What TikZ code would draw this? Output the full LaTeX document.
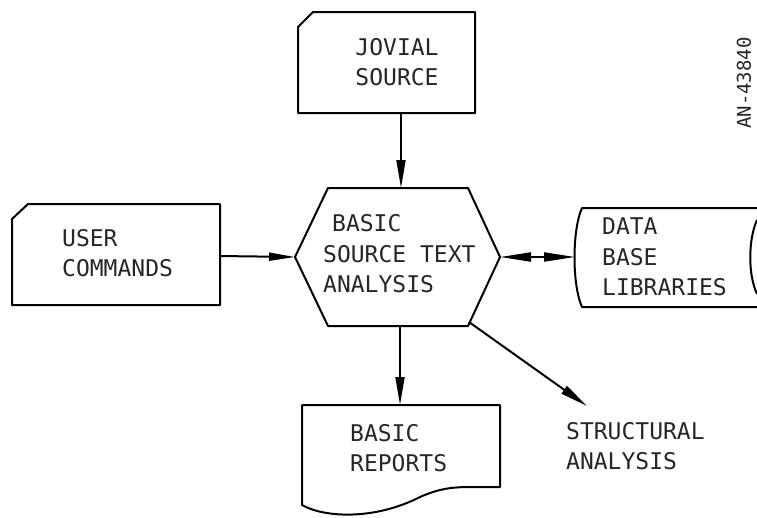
\documentclass[tikz,border=0pt]{standalone}
\usepackage{fontspec}
\setmonofont{DejaVu Sans Mono}
\usetikzlibrary{arrows.meta}
\begin{document}
\begin{tikzpicture}[x=1pt,y=-1pt,
  shp/.style={draw=black,line width=2pt,line join=round},
  conn/.style={draw=black,line width=2pt},
  lbl/.style={inner sep=0pt,text=black!85,font=\ttfamily\fontsize{23}{30.5}\selectfont},
  bighead/.tip={Triangle[length=28pt,width=9pt]}]
\useasboundingbox (0,0) rectangle (757,517);
% JOVIAL SOURCE card
\draw[shp] (298,113) -- (298,27) -- (313,12) -- (475,12) -- (475,113) -- cycle;
\coordinate (jovB) at (401,113);
\node[lbl,align=center] (jov) at (397,62) {JOVIAL\\SOURCE};
% USER COMMANDS card
\draw[shp] (12,305) -- (12,219) -- (28,204) -- (220,204) -- (220,305) -- cycle;
\coordinate (usrR) at (220,256);
\node[lbl,align=left,anchor=west] (usr) at (62,253) {USER\\COMMANDS};
% hexagon
\draw[shp] (328,188) -- (468,188) -- (500,257) -- (468,326) -- (328,326) -- (295,257) -- cycle;
\coordinate (hexT) at (401,188);
\coordinate (hexL) at (295,257);
\coordinate (hexR) at (500,257);
\coordinate (hexB) at (400,326);
\coordinate (hexBR) at (469,322);
\node[lbl,align=left,anchor=west] (bsta) at (323,254) {\hspace*{9pt}BASIC\\SOURCE TEXT\\ANALYSIS};
% data base libraries (stored data)
\draw[shp] (757,208) -- (582,208) .. controls (572,230) and (572,285) .. (582,307) -- (757,307);
\draw[shp] (757,220) .. controls (748,240) and (748,275) .. (757,294);
\coordinate (dbL) at (575,257);
\node[lbl,align=left,anchor=west] (db) at (602,257) {DATA\\BASE\\LIBRARIES};
% BASIC REPORTS document
\draw[shp] (500,487) -- (500,405) -- (302,405) -- (302,505)
  .. controls (325,518) and (375,520) .. (420,497)
  .. controls (440,488) and (455,487) .. (470,487) -- cycle;
\coordinate (repT) at (400,405);
\node[lbl,align=left,anchor=west] (rep) at (350,448) {BASIC\\REPORTS};
% structural analysis
\coordinate (strTip) at (587,406);
\node[lbl,align=left,anchor=west] (str) at (566,446) {STRUCTURAL\\ANALYSIS};
% connectors
\draw[conn,-{bighead}] (jovB) -- (hexT);
\draw[conn,-{Triangle[length=26pt,width=8pt]}] (usrR) -- (hexL);
\draw[conn,{Triangle[length=31pt,width=9pt]}-{Triangle[length=31pt,width=9pt]}] (hexR) -- (dbL);
\draw[conn,-{bighead}] (hexB) -- (repT);
\draw[conn,-{bighead}] (hexBR) -- (strTip);
% side reference number
\node[inner sep=0pt,rotate=90,text=black!85,font=\ttfamily\fontsize{19}{20}\selectfont] (ref) at (744,83) {AN-43840};
\end{tikzpicture}
\end{document}
